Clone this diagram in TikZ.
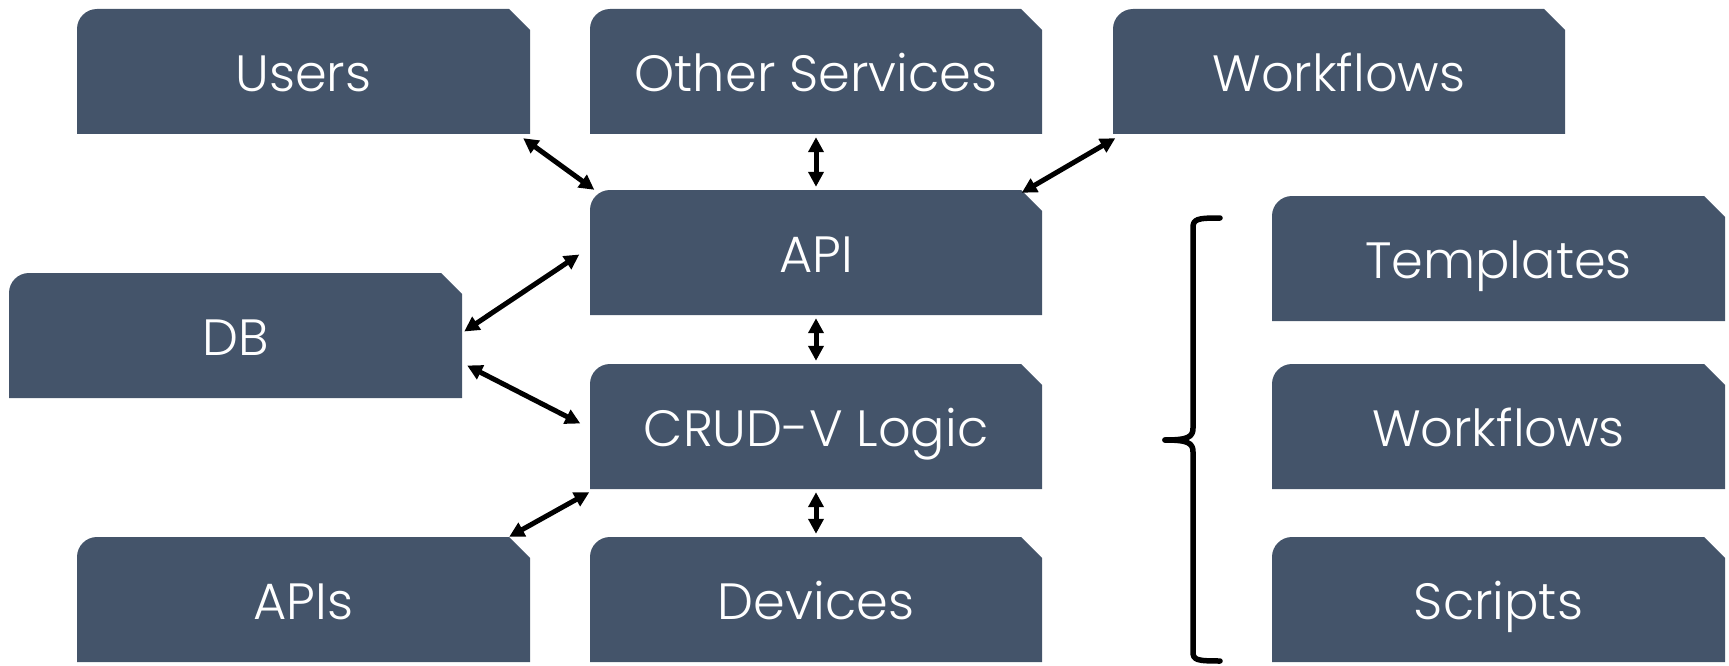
\documentclass[tikz,border=0pt]{standalone}
\usepackage{fontspec}
\setmainfont{Poppins Light}
\usetikzlibrary{calc,arrows.meta}
\definecolor{cardfill}{HTML}{44546A}
\tikzset{
  cardtext/.style={inner sep=0pt, minimum width=453pt, minimum height=125pt,
    text=white, font=\fontsize{51}{60}\selectfont, text height=40pt, text depth=0pt},
  link/.style={line width=5pt, {Triangle[length=15pt,width=15pt]}-{Triangle[length=15pt,width=15pt]}},
  bracestroke/.style={line width=5.5pt, line cap=round, line join=round}
}
\newcommand\card[6]{%
  \fill[cardfill] (#2,#5) [rounded corners=20pt] -- (#2,#3) [sharp corners] -- ({#4-21},#3) -- (#4,{#3+21}) -- (#4,#5) -- cycle;
  \node[cardtext] (#1) at ({(#2+#4)/2},{(#3+#5)/2}) {#6};
}
\begin{document}
\begin{tikzpicture}[x=1pt,y=-1pt]
\useasboundingbox (0,0) rectangle (1729,666);
\card{users}{77}{9}{530}{134}{Users}
\card{other}{590}{9}{1042}{134}{Other Services}
\card{wftop}{1113}{9}{1565}{134}{Workflows}
\card{api}{590}{190}{1042}{315}{API}
\card{db}{9}{273}{462}{398}{DB}
\card{crud}{590}{364}{1042}{489}{CRUD-V Logic}
\card{apis}{77}{537}{530}{662}{APIs}
\card{devices}{590}{537}{1042}{662}{Devices}
\card{templates}{1272}{196}{1725}{321}{Templates}
\card{wfright}{1272}{364}{1725}{489}{Workflows}
\card{scripts}{1272}{537}{1725}{662}{Scripts}

\draw[link] ($(users.south east)+(-7,4)$) -- ($(api.north west)+(5,0)$);
\draw[link] ($(other.south)+(0,3)$) -- ($(api.north)+(0,-3)$);
\draw[link] ($(wftop.south west)+(3,4)$) -- ($(api.north east)+(-21,3)$);
\draw[link] ($(db.east)+(2,-4)$) -- ($(api.west)+(-10,2)$);
\draw[link] ($(db.east)+(5,30)$) -- ($(crud.west)+(-9,-3)$);
\draw[link] ($(crud.south west)+(0,3)$) -- ($(apis.north east)+(-21,0)$);
\draw[link] ($(api.south)+(0,3)$) -- ($(crud.north)+(0,-3)$);
\draw[link] ($(crud.south)+(0,3)$) -- ($(devices.north)+(0,-3)$);

\draw[bracestroke] (1220,218) .. controls (1197,218) and (1193,219) .. (1193,228)
  -- (1193,428) .. controls (1193,437) and (1188,440) .. (1165,440);
\draw[bracestroke] (1165,440) .. controls (1188,440) and (1193,443) .. (1193,452)
  -- (1193,652) .. controls (1193,660) and (1197,661) .. (1220,661);
\end{tikzpicture}
\end{document}
